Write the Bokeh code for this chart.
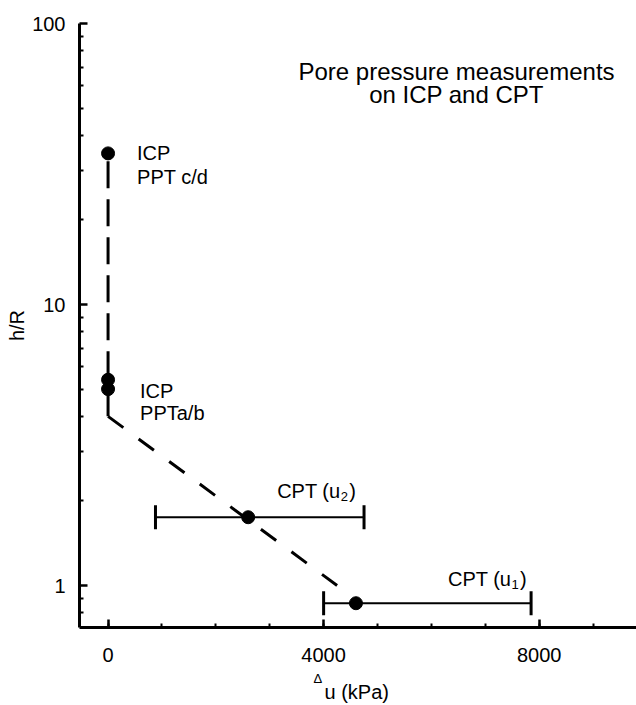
from bokeh.plotting import figure
from bokeh.models import (ColumnDataSource, Whisker, TeeHead, Label, FixedTicker, Title)
from bokeh.embed import file_html
from bokeh.resources import INLINE

# --- data -------------------------------------------------------------
# ICP piezometer readings (excess pore pressure, kPa) at normalised height h/R
icp_cd_du = [0]
icp_cd_hr = [34.5]
icp_ab_du = [0, 0]
icp_ab_hr = [5.4, 5.0]

# CPT readings: mean value with range
cpt_names = ["u2", "u1"]
cpt_du = [2600, 4600]
cpt_du_low = [880, 4000]
cpt_du_high = [4750, 7850]
cpt_hr = [1.75, 0.865]

# interpreted trend (dashed)
trend_du = [0, 0, 4250]
trend_hr = [34.5, 4.0, 1.0]

x_ticks = [0, 4000, 8000]
x_minor = [1000, 2000, 3000, 5000, 6000, 7000, 9000]
y_ticks = [1, 10, 100]
y_minor = [0.8, 0.9] + [m * d for d in (1, 10) for m in range(2, 10)]

FONT = "Liberation Sans"

p = figure(width=636, height=705, y_axis_type="log",
           x_range=(-530, 9806), y_range=(0.709, 100),
           output_backend="svg", toolbar_location=None,
           min_border_left=79, min_border_right=0,
           min_border_top=23, min_border_bottom=78)
p.outline_line_color = None
p.grid.visible = False
p.background_fill_color = "white"
p.border_fill_color = "white"

# axes
for ax in (p.xaxis[0], p.yaxis[0]):
    ax.axis_line_width = 3
    ax.axis_line_color = "black"
    ax.major_tick_line_width = 2.5
    ax.minor_tick_line_width = 2
    ax.major_tick_in = 8
    ax.major_tick_out = 0
    ax.minor_tick_in = 4
    ax.minor_tick_out = 0
    ax.major_label_text_font = FONT
    ax.major_label_text_font_size = "20px"
    ax.major_label_text_color = "black"

p.xaxis.ticker = FixedTicker(ticks=x_ticks, minor_ticks=x_minor + x_ticks)
p.yaxis.ticker = FixedTicker(ticks=y_ticks, minor_ticks=y_minor)
p.xaxis.major_label_overrides = {t: str(t) for t in x_ticks}
p.yaxis.major_label_overrides = {t: str(t) for t in y_ticks}
p.xaxis.major_label_standoff = 20
p.yaxis.major_label_standoff = 14

p.yaxis.axis_label = "h/R"
p.yaxis.axis_label_text_font = FONT
p.yaxis.axis_label_text_font_size = "20px"
p.yaxis.axis_label_text_font_style = "normal"
p.yaxis.axis_label_text_color = "black"
p.yaxis.axis_label_standoff = 1

# x axis title: small raised delta followed by "u (kPa)"
p.add_layout(Title(text="\u00a0", standoff=3, text_font=FONT,
                   text_font_size="8px", text_font_style="normal"), "below")
p.add_layout(Title(text="\u0394", align="left", offset=234, vertical_align="top",
                   standoff=-15, text_font=FONT, text_font_size="13px",
                   text_font_style="normal", text_color="black"), "below")
p.add_layout(Title(text="u (kPa)", align="left", offset=245, vertical_align="top",
                   standoff=0, text_font=FONT, text_font_size="20px",
                   text_font_style="normal", text_color="black"), "below")

# trend line: vertical part and sloping part
p.line(x=[trend_du[1], trend_du[0]], y=[trend_hr[1], trend_hr[0]],
       line_color="black", line_width=3, line_dash="27 11")
p.line(x=trend_du[1:3], y=trend_hr[1:3],
       line_color="black", line_width=3, line_dash="19 19")

# CPT ranges
cpt_src = ColumnDataSource(dict(du=cpt_du, lo=cpt_du_low, hi=cpt_du_high, hr=cpt_hr))
p.add_layout(Whisker(source=cpt_src, base="hr", lower="lo", upper="hi",
                     dimension="width", line_color="black", line_width=2,
                     lower_head=TeeHead(size=24, line_width=3, line_color="black"),
                     upper_head=TeeHead(size=24, line_width=3, line_color="black")))

# points
p.scatter(x=icp_cd_du, y=icp_cd_hr, size=13, color="black")
p.scatter(x=icp_ab_du, y=icp_ab_hr, size=13, color="black")
p.scatter(x="du", y="hr", source=cpt_src, size=13, color="black")


def lab(text, x, y, size="20px", units="data", xo=0, yo=0, align="left"):
    p.add_layout(Label(x=x, y=y, x_units=units, y_units=units, text=text,
                       x_offset=xo, y_offset=yo, text_font=FONT,
                       text_font_size=size, text_color="black",
                       text_align=align, text_baseline="alphabetic"))


# point labels
lab("ICP", icp_cd_du[0], icp_cd_hr[0], xo=29, yo=0)
lab("PPT c/d", icp_cd_du[0], icp_cd_hr[0], xo=29, yo=-24)
lab("ICP", icp_ab_du[1], icp_ab_hr[1], xo=32, yo=-2)
lab("PPTa/b", icp_ab_du[1], icp_ab_hr[1], xo=32, yo=-24)

for name, du, hr, xo, yo in zip(cpt_names, cpt_du, cpt_hr, [29, 92], [26, 24]):
    lab("CPT (u", du, hr, xo=xo, yo=yo)
    lab(name[1], du, hr, size="13px", xo=xo + 63.5, yo=yo - 5)
    lab(")", du, hr, xo=xo + 72, yo=yo)

# heading (screen units relative to the plot frame)
lab("Pore pressure measurements", 377, 556, size="24px", units="screen", align="center")
lab("on ICP and CPT", 377, 533, size="24px", units="screen", align="center")

open("out.html", "w").write(file_html(p, INLINE))
